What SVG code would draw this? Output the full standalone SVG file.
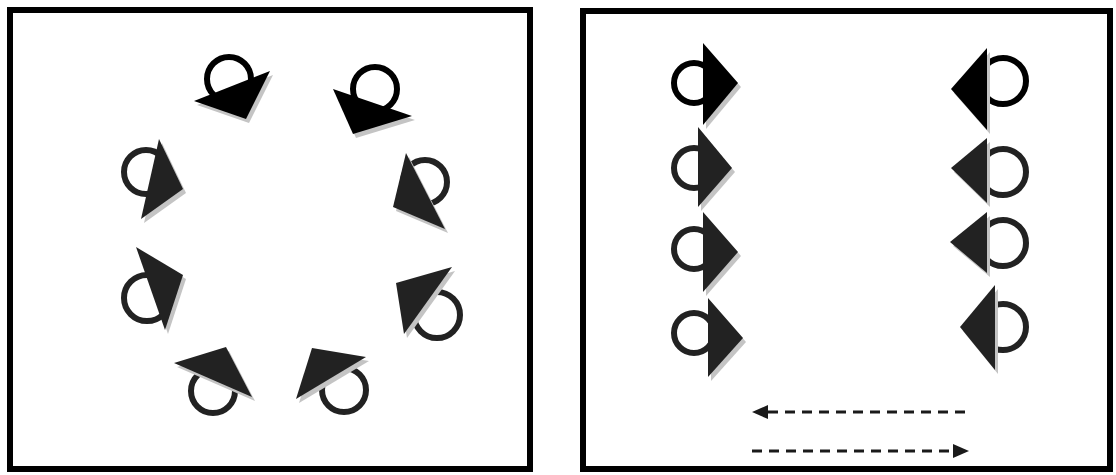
<svg xmlns="http://www.w3.org/2000/svg" width="1116" height="475" viewBox="0 0 1116 475">
<defs>
<style>
.frame{fill:none;stroke:#000;stroke-width:6}
.ring{fill:none;stroke:#222;stroke-width:6}
.ring.k{stroke:#000}
.tri{fill:#222}
.tri.k{fill:#000}
.sh{fill:#c4c4c4}
.dash{fill:none;stroke:#1a1a1a;stroke-width:3;stroke-dasharray:10 7}
</style>
<marker id="ah" markerUnits="userSpaceOnUse" markerWidth="16" markerHeight="14" refX="2" refY="7" orient="auto">
<path d="M0,0 L16,7 L0,14 z" fill="#1a1a1a"/>
</marker>
</defs>
<rect width="1116" height="475" fill="#fff"/>
<rect class="frame" x="10" y="10" width="520" height="459"/>
<rect class="frame" x="583" y="11" width="527" height="458"/>

<g id="nodeA"><circle class="ring k" cx="229" cy="79" r="22"/><polygon class="sh" transform="translate(3,4)" points="194,101 270,71 246,119"/><polygon class="tri k" points="194,101 270,71 246,119"/></g>
<g id="nodeB"><circle class="ring" cx="146" cy="172" r="22"/><polygon class="sh" transform="translate(3,4)" points="159,139 183,189 141,219"/><polygon class="tri" points="159,139 183,189 141,219"/></g>
<g id="nodeC"><circle class="ring k" cx="375" cy="89" r="22"/><polygon class="sh" transform="translate(3,4)" points="333,89 412,116 353,134"/><polygon class="tri k" points="333,89 412,116 353,134"/></g>
<g id="nodeD"><circle class="ring" cx="425" cy="182" r="22"/><polygon class="sh" transform="translate(3,4)" points="406,153 445,229 393,207"/><polygon class="tri" points="406,153 445,229 393,207"/></g>
<g id="nodeE"><circle class="ring" cx="147" cy="298" r="23"/><polygon class="sh" transform="translate(3,4)" points="136,247 183,275 165,330"/><polygon class="tri" points="136,247 183,275 165,330"/></g>
<g id="nodeF"><circle class="ring" cx="213" cy="391" r="22"/><polygon class="sh" transform="translate(3,4)" points="174,363 226,347 252,397"/><polygon class="tri" points="174,363 226,347 252,397"/></g>
<g id="nodeG"><circle class="ring" cx="437" cy="315" r="23"/><polygon class="sh" transform="translate(3,4)" points="452,267 396,283 404,334"/><polygon class="tri" points="452,267 396,283 404,334"/></g>
<g id="nodeH"><circle class="ring" cx="344" cy="390" r="22"/><polygon class="sh" transform="translate(3,4)" points="312,348 366,357 296,399"/><polygon class="tri" points="312,348 366,357 296,399"/></g>

<g id="nodeR1"><circle class="ring k" cx="694" cy="83" r="20"/><polygon class="sh" transform="translate(3,4)" points="703,43 703,125 738,83"/><polygon class="tri k" points="703,43 703,125 738,83"/></g>
<g id="nodeR2"><circle class="ring" cx="694" cy="168" r="20"/><polygon class="sh" transform="translate(3,4)" points="698,127 698,207 732,168"/><polygon class="tri" points="698,127 698,207 732,168"/></g>
<g id="nodeR3"><circle class="ring" cx="694" cy="249" r="20"/><polygon class="sh" transform="translate(3,4)" points="703,212 703,292 738,252"/><polygon class="tri" points="703,212 703,292 738,252"/></g>
<g id="nodeR4"><circle class="ring" cx="694" cy="333" r="20"/><polygon class="sh" transform="translate(3,4)" points="708,298 708,377 743,338"/><polygon class="tri" points="708,298 708,377 743,338"/></g>

<g id="nodeL1"><circle class="ring k" cx="1003" cy="81" r="23"/><polygon class="sh" transform="translate(3,4)" points="987,48 987,130 951,89"/><polygon class="tri k" points="987,48 987,130 951,89"/></g>
<g id="nodeL2"><circle class="ring" cx="1003" cy="172" r="23"/><polygon class="sh" transform="translate(3,4)" points="987,138 987,203 951,168"/><polygon class="tri" points="987,138 987,203 951,168"/></g>
<g id="nodeL3"><circle class="ring" cx="1003" cy="243" r="23"/><polygon class="sh" transform="translate(3,4)" points="987,212 987,273 950,242"/><polygon class="tri" points="987,212 987,273 950,242"/></g>
<g id="nodeL4"><circle class="ring" cx="1003" cy="327" r="23"/><polygon class="sh" transform="translate(3,4)" points="995,285 995,370 960,327"/><polygon class="tri" points="995,285 995,370 960,327"/></g>

<g id="connectors">
<line class="dash" x1="965" y1="412" x2="766" y2="412" marker-end="url(#ah)"/>
<line class="dash" x1="752" y1="451" x2="955" y2="451" marker-end="url(#ah)"/>
</g>
</svg>
